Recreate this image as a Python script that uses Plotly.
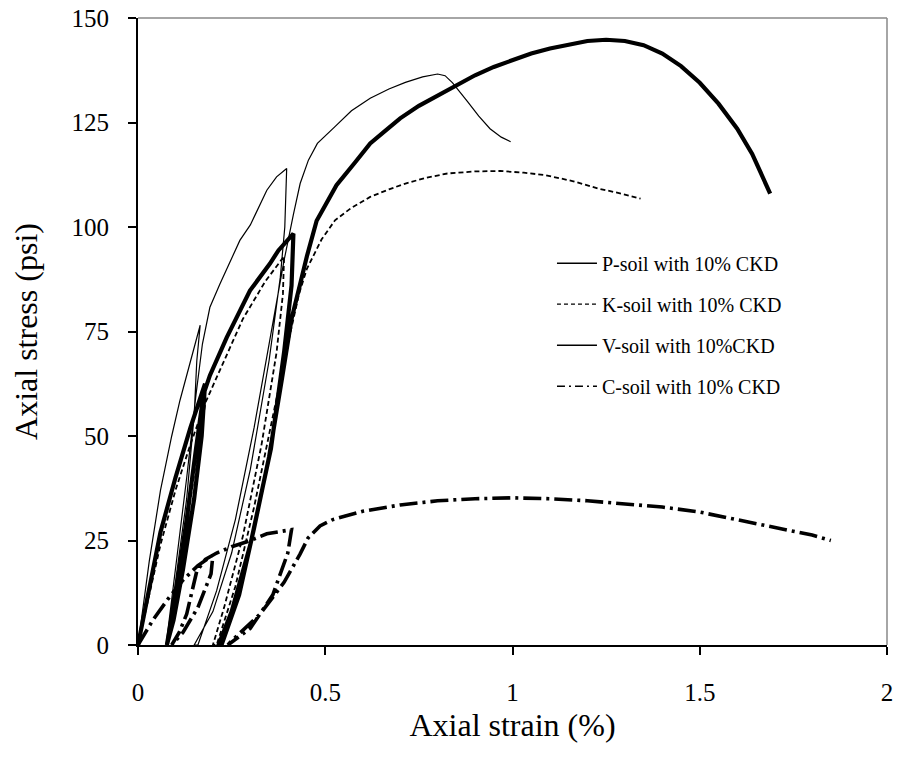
import plotly.graph_objects as go

# ---------------- data (axial strain %, axial stress psi) ----------------
p_strain = [0, 0.03, 0.06, 0.10, 0.14, 0.179,
            0.17, 0.15, 0.12, 0.095, 0.077,
            0.10, 0.13, 0.155, 0.175, 0.192, 0.237, 0.299, 0.326, 0.352, 0.375, 0.415,
            0.41, 0.39, 0.355, 0.30, 0.25, 0.215,
            0.223, 0.27, 0.31, 0.35, 0.385, 0.41, 0.432, 0.451, 0.477, 0.53, 0.58, 0.62,
            0.66, 0.70, 0.75, 0.80, 0.85, 0.90, 0.95, 1.00, 1.05, 1.10, 1.15, 1.20,
            1.25, 1.30, 1.35, 1.40, 1.45, 1.50, 1.55, 1.60, 1.64, 1.688]
p_stress = [0, 14, 27, 40, 52, 62.5,
            50, 35, 18, 6, 0,
            12, 30, 47, 60, 64.5, 73.6, 84.8, 88, 91.2, 94.4, 98.4,
            86, 70, 47, 24, 8, 0,
            0, 12, 28, 45, 64, 78, 86, 93, 101.5, 110, 115.5, 120,
            123, 126, 129, 131.5, 134, 136.3, 138.3, 140, 141.5, 142.7, 143.7, 144.5,
            144.8, 144.5, 143.5, 141.5, 138.5, 134.5, 129.5, 123.5, 117.5, 108]

k_strain = [0, 0.03, 0.06, 0.10, 0.14, 0.172,
            0.168, 0.15, 0.12, 0.09, 0.075,
            0.08, 0.11, 0.14, 0.165, 0.18, 0.22, 0.28, 0.34, 0.39,
            0.387, 0.37, 0.33, 0.28, 0.23, 0.20,
            0.21, 0.26, 0.31, 0.36, 0.40, 0.43, 0.451, 0.49, 0.526, 0.57, 0.62,
            0.67, 0.714, 0.77, 0.826, 0.90, 0.967, 1.03, 1.088, 1.16, 1.229,
            1.29, 1.342]
k_stress = [0, 12, 24, 37, 48, 56,
            48, 35, 18, 5, 0,
            0, 17, 35, 50, 58, 66, 78, 87, 93,
            84, 70, 48, 26, 9, 0,
            0, 14, 33, 55, 72, 84, 90, 97, 101.6, 104.6, 107.2,
            109, 110.4, 111.8, 112.8, 113.3, 113.4, 113, 112.4, 111, 109.2,
            108, 106.8]

v_strain = [0, 0.03, 0.06, 0.09, 0.112, 0.148, 0.166,
            0.157, 0.15, 0.13, 0.10, 0.075,
            0.10, 0.13, 0.155, 0.172, 0.192, 0.219, 0.272, 0.30, 0.344, 0.37, 0.397,
            0.392, 0.38, 0.35, 0.30, 0.25, 0.20, 0.15,
            0.16, 0.21, 0.26, 0.31, 0.35, 0.39, 0.415, 0.433, 0.455, 0.479, 0.526,
            0.57, 0.62, 0.67, 0.714, 0.76, 0.80, 0.82, 0.84, 0.86, 0.88, 0.91,
            0.94, 0.97, 0.995]
v_stress = [0, 20, 37, 50, 58.5, 70.5, 76.5,
            68, 55, 35, 15, 0,
            18, 40, 60, 72, 80.8, 86.4, 96.8, 100.5, 108.8, 112, 114,
            100, 88, 68, 42, 22, 8, 0,
            0, 13, 30, 52, 72, 92, 103, 110.4, 116, 120, 124,
            127.8, 130.8, 133, 134.6, 135.9, 136.6, 136.2, 134.5, 132.3, 130, 126.5,
            123.5, 121.5, 120.4]

c_strain = [0, 0.04, 0.08, 0.12, 0.16, 0.20,
            0.195, 0.16, 0.12, 0.09,
            0.11, 0.13, 0.157, 0.18, 0.21, 0.25, 0.30, 0.344, 0.41,
            0.40, 0.36, 0.30, 0.24,
            0.25, 0.326, 0.39, 0.433, 0.454, 0.486, 0.52, 0.60, 0.70, 0.80, 0.90,
            1.00, 1.10, 1.20, 1.30, 1.40, 1.50, 1.60, 1.70, 1.80, 1.85]
c_stress = [0, 6, 11, 15.5, 19, 21.5,
            17, 9, 3, 0,
            3, 7.4, 17.7, 20.5, 22, 23.5, 25, 26.6, 27.6,
            22, 12, 4, 0,
            1, 7.4, 15, 21.8, 25.6, 28.5, 30, 32, 33.5, 34.5, 35,
            35.2, 35, 34.5, 33.8, 33, 31.8, 30, 28.3, 26.3, 25]

series_names = ["P-soil with 10% CKD", "K-soil with 10% CKD",
                "V-soil with 10%CKD", "C-soil with 10% CKD"]
x_ticks = [0, 0.5, 1, 1.5, 2]
x_tick_text = ["0", "0.5", "1", "1.5", "2"]
y_ticks = [0, 25, 50, 75, 100, 125, 150]

FONT = "Liberation Serif, Times New Roman, serif"

fig = go.Figure()

styles = [
    dict(color="black", width=4.2, dash="solid"),
    dict(color="black", width=1.8, dash="5px,3px"),
    dict(color="black", width=1.2, dash="solid"),
    dict(color="black", width=3.6, dash="18px,5px,3px,5px"),
]
data = [(p_strain, p_stress), (k_strain, k_stress),
        (v_strain, v_stress), (c_strain, c_stress)]

for idx in [2, 1, 3, 0]:
    xs, ys = data[idx]
    fig.add_trace(go.Scatter(x=xs, y=ys, mode="lines", line=styles[idx],
                             showlegend=False, hoverinfo="skip"))

legend_styles = [
    dict(color="black", width=1.5, dash="solid"),
    dict(color="black", width=1.3, dash="4px,3px"),
    dict(color="black", width=1.5, dash="solid"),
    dict(color="black", width=1.5, dash="8px,4px,2px,4px"),
]
for i, name in enumerate(series_names):
    fig.add_trace(go.Scatter(x=[None], y=[None], mode="lines", name=name,
                             line=legend_styles[i], legendgroup=f"g{i}"))

fig.update_layout(
    width=897, height=758,
    margin=dict(l=138, r=10, t=18, b=113),
    paper_bgcolor="white", plot_bgcolor="white",
    font=dict(family=FONT, color="black"),
    legend=dict(x=0.5527, y=0.64, xanchor="left", yanchor="top",
                font=dict(family=FONT, size=20, color="black"),
                bgcolor="rgba(0,0,0,0)", tracegroupgap=12,
                itemwidth=40),
    xaxis=dict(range=[0, 2], tickvals=x_ticks, ticktext=x_tick_text,
               showgrid=False, zeroline=False, showline=True, automargin=False,
               linecolor="black", linewidth=2, ticks="outside", ticklen=8,
               tickwidth=1.5, tickcolor="black",
               tickfont=dict(family=FONT, size=25, color="black"),
               ticklabelstandoff=16,
               title=dict(text="Axial strain (%)", standoff=9,
                          font=dict(family=FONT, size=32, color="black"))),
    yaxis=dict(range=[0, 150], tickvals=y_ticks,
               showgrid=False, zeroline=False, showline=True, automargin=False,
               linecolor="black", linewidth=2, ticks="outside", ticklen=8,
               tickwidth=1.5, tickcolor="black",
               tickfont=dict(family=FONT, size=25, color="black"),
               ticklabelstandoff=14,
               title=dict(text="Axial stress (psi)", standoff=24,
                          font=dict(family=FONT, size=32, color="black"))),
    shapes=[
        dict(type="line", xref="paper", yref="paper", x0=0, x1=1, y0=1, y1=1,
             line=dict(color="#888888", width=1.5)),
        dict(type="line", xref="paper", yref="paper", x0=1, x1=1, y0=0, y1=1,
             line=dict(color="#888888", width=1.5)),
    ],
)

fig.write_html("out.html", config={"displayModeBar": False},
               post_script="document.body.style.margin='0';")
